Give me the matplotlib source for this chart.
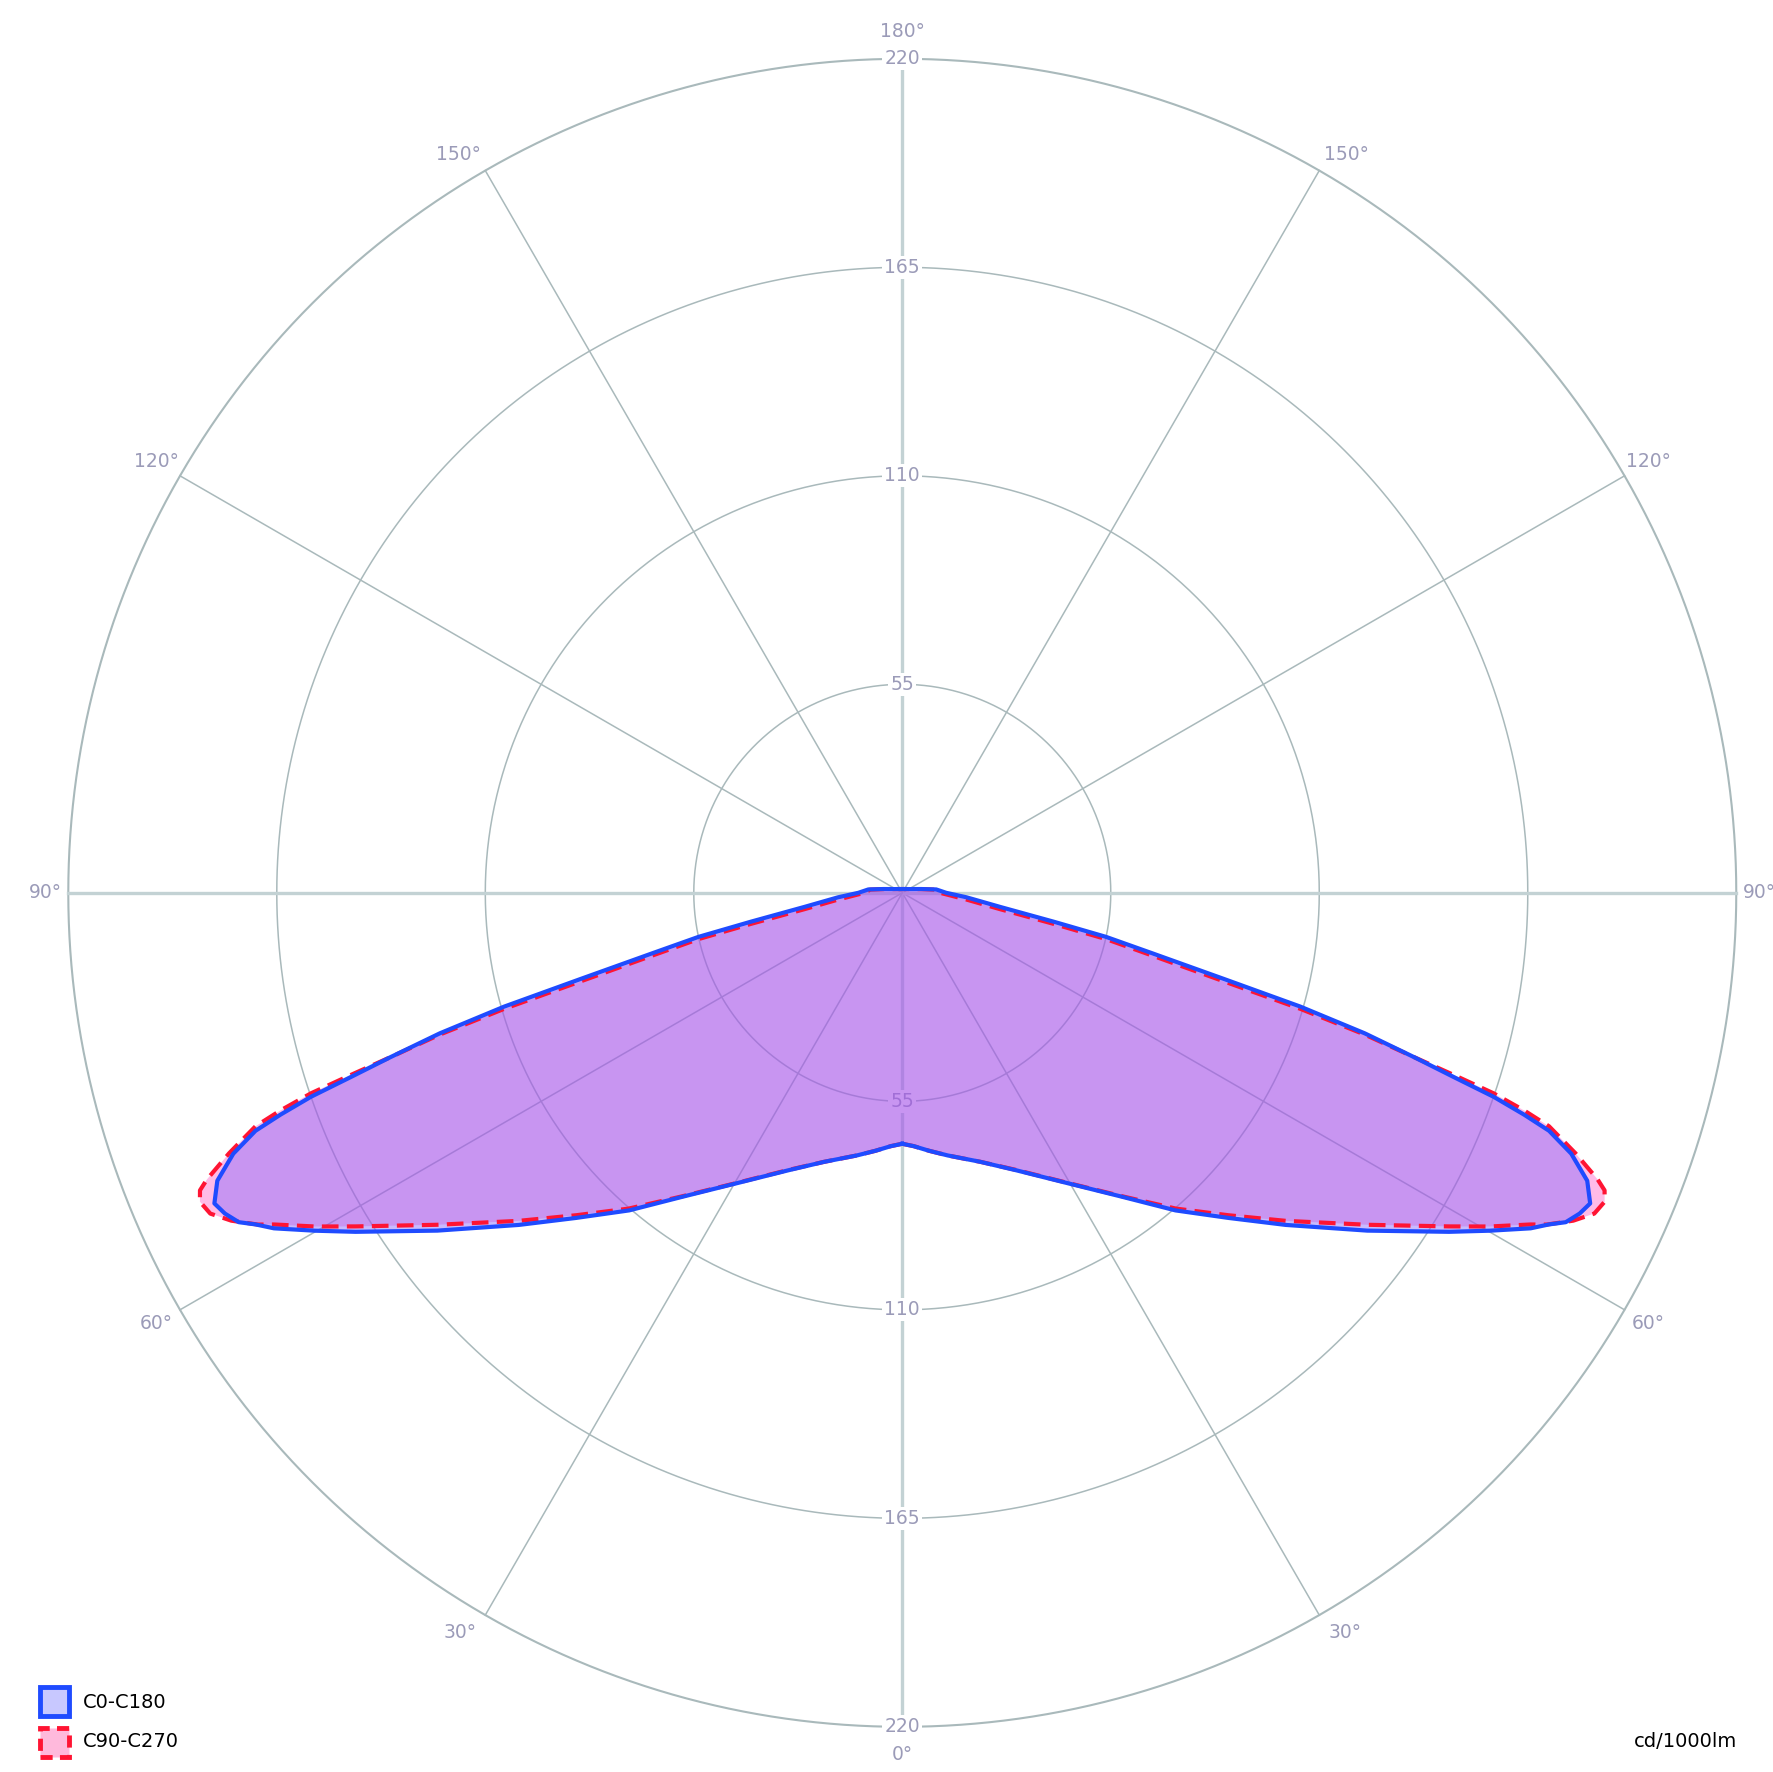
import numpy as np
import matplotlib.pyplot as plt
from matplotlib.patches import Rectangle

# luminous intensity, cd/1000lm, half plane (gamma from nadir), symmetric
gamma_c0 = [0, 2.6, 5.9, 9.8, 16.2, 22.3, 29.9, 35.9, 40.7, 45.1, 49.1, 54.0, 58.2, 60.1, 61.9,
            62.85, 63.6, 64.66, 65.7, 67.2, 68.7, 69.8, 70.37, 70.97, 71.5, 72.2, 73.1, 74.05,
            75.0, 76.4, 77.8, 79.2, 81.8, 86, 90, 95.7, 101.3, 116.6, 180]
int_c0 = [66.2, 66.9, 68.4, 70.3, 73.9, 79.1, 88.5, 99, 110.5, 121.5, 133.8, 151.6, 169.7, 178.8, 187.9,
          191.7, 195.4, 197.7, 199.1, 196.0, 189.4, 181.8, 174.1, 165.0, 153.9, 141.8, 127.5, 109.2,
          88.0, 67.9, 55.0, 40.7, 26.1, 17.0, 11.6, 9.0, 5.1, 2.2, 1.0]

gamma_c90 = [0, 2.6, 5.9, 9.8, 16.2, 22.3, 29.9, 35.9, 40.9, 45.3, 49.45, 54.5, 58.6, 60.4, 62.17,
             62.76, 63.96, 65.13, 66.26, 67.04, 67.6, 68.85, 70.15, 70.71, 71.27, 71.7, 72.2, 72.96,
             73.75, 74.6, 75.9, 77.2, 78.4, 80.5, 83.96, 90, 95.7, 101.3, 116.6, 180]
int_c90 = [66.2, 66.9, 68.4, 70.3, 73.9, 79.0, 88.4, 98.8, 110.2, 120.9, 133.1, 150.8, 168.9, 178.2, 187.4,
           191.2, 197.0, 201.2, 202.4, 201.2, 198.4, 190.4, 181.4, 173.8, 164.7, 153.8, 141.8, 127.6,
           109.4, 88.2, 68.1, 55.2, 40.8, 26.2, 17.1, 10.0, 8.5, 5.0, 2.2, 1.0]

rings = [55, 110, 165, 220]
spokes = [0, 30, 60, 90, 120, 150, 180, 210, 240, 270, 300, 330]
angle_labels = ["0°", "30°", "60°", "90°", "120°", "150°", "180°", "150°", "120°", "90°", "60°", "30°"]
label_pos = [0, 30.9, 60, 90, 120, 149.0, 180, 211.0, 240, 270, 300, 329.1]

label_col = "#9b9bb8"
grid_col = "#a9b9bb"
main_col = "#c3d2d4"


def full_curve(g, r):
    g = np.array(g, dtype=float)
    r = np.array(r, dtype=float)
    th = np.deg2rad(np.concatenate([g, 360 - g[::-1]]))
    rr = np.concatenate([r, r[::-1]])
    return th, rr


fig = plt.figure(figsize=(17.73, 17.72), dpi=100)
ax = fig.add_axes([0.5089 - 0.4704, 0.4962 - 0.4707, 0.9408, 0.9413], projection="polar")
ax.set_theta_zero_location("S")
ax.set_ylim(0, 220)
ax.set_axis_off()

# grid
circ = np.linspace(0, 2 * np.pi, 721)
for rr in rings:
    lw = 1.5 if rr == rings[-1] else 1.1
    ax.plot(circ, np.full_like(circ, rr), color=grid_col, lw=lw, zorder=1, clip_on=False)
for a in spokes:
    if a % 90 == 0:
        ax.plot([np.deg2rad(a)] * 2, [0, 220], color=main_col, lw=2.4, zorder=1, clip_on=False)
    else:
        ax.plot([np.deg2rad(a)] * 2, [0, 220], color=grid_col, lw=1.1, zorder=1, clip_on=False)

# radial labels on vertical axis
for rr in rings:
    for t in (0, np.pi):
        ax.text(t, rr, str(rr), ha="center", va="center", fontsize=13.5, color=label_col,
                bbox=dict(fc="white", ec="none", pad=1.5), zorder=2)

# angle labels
for a, s in zip(label_pos, angle_labels):
    rad = 226 if a in (90, 270) else 227.3
    ax.text(np.deg2rad(a), rad, s, ha="center", va="center", fontsize=13.5,
            color=label_col, clip_on=False)

th0, r0 = full_curve(gamma_c0, int_c0)
th90, r90 = full_curve(gamma_c90, int_c90)

ax.fill(th90, r90, color="#ff20b2", alpha=0.3, lw=0, zorder=3)
ax.fill(th0, r0, color="#8568ff", alpha=0.45, lw=0, zorder=3.5)
ax.plot(th90, r90, color="#ff1433", lw=3, dashes=(4, 2), zorder=5)
ax.plot(th0, r0, color="#1f4bff", lw=3, zorder=6)

# legend
fig.add_artist(Rectangle((0.0225, 0.0315), 0.0165, 0.0165, transform=fig.transFigure,
                         fc="#c8c8ff", ec="#1f4bff", lw=3.5))
fig.add_artist(Rectangle((0.0225, 0.0085), 0.0165, 0.0165, transform=fig.transFigure,
                         fc="#ffb9dc", ec="#ff1433", lw=3.5, ls=(0, (2.5, 1.5))))
fig.text(0.0465, 0.0395, "C0-C180", fontsize=14, va="center", ha="left")
fig.text(0.0465, 0.0170, "C90-C270", fontsize=14, va="center", ha="left")
fig.text(0.980, 0.0170, "cd/1000lm", fontsize=14, va="center", ha="right")

fig.savefig("out.png", dpi=100, facecolor="white")
